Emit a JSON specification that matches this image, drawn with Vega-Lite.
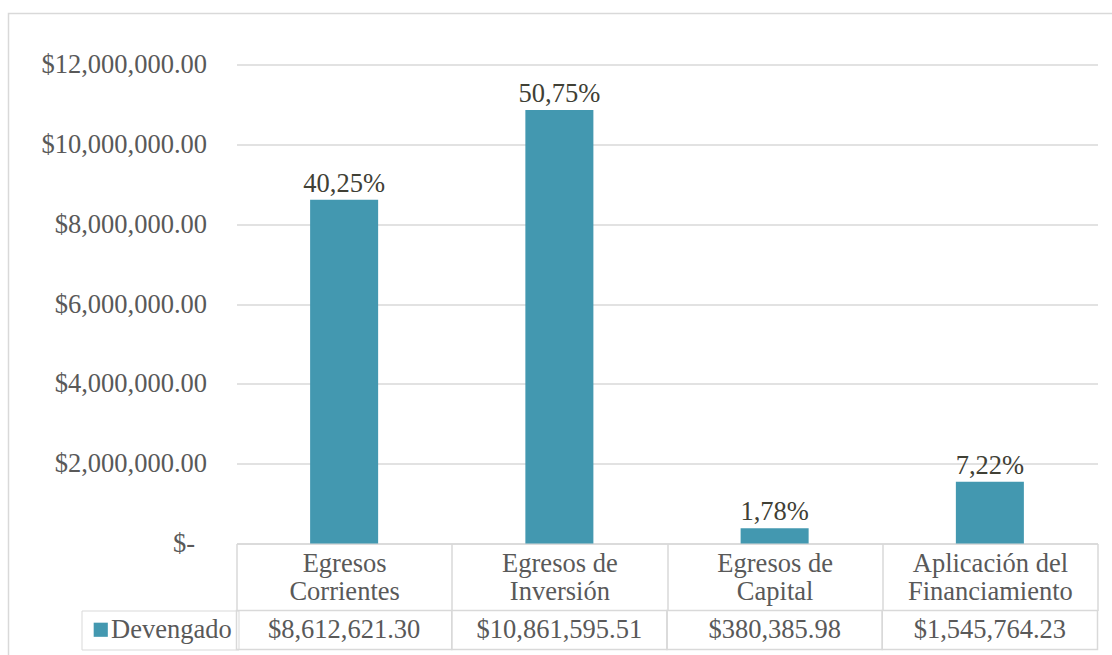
{
  "$schema": "https://vega.github.io/schema/vega-lite/v6.json",
  "padding": {"left": 8.5, "top": 13.5, "right": 0, "bottom": 0},
  "background": "white",
  "spacing": 67,
  "bounds": "flush",
  "data": {
    "values": [
      {"categoria": "Egresos Corrientes", "monto": 8612621.30, "pct": "40,25%"},
      {"categoria": "Egresos de Inversión", "monto": 10861595.51, "pct": "50,75%"},
      {"categoria": "Egresos de Capital", "monto": 380385.98, "pct": "1,78%"},
      {"categoria": "Aplicación del Financiamiento", "monto": 1545764.23, "pct": "7,22%"}
    ]
  },
  "vconcat": [
    {
      "width": 861,
      "height": 479,
      "encoding": {
        "x": {
          "field": "categoria",
          "type": "nominal",
          "sort": null,
          "scale": {"paddingInner": 0, "paddingOuter": 0},
          "axis": {
            "title": null,
            "labelAngle": 0,
            "labelExpr": "[substring(datum.label, 0, lastindexof(datum.label, ' ')), substring(datum.label, lastindexof(datum.label, ' ') + 1)]",
            "labelLineHeight": 28,
            "labelPadding": -60,
            "labelBaseline": "top",
            "tickBand": "extent",
            "tickSize": 67,
            "tickColor": "#d9d9d9",
            "tickWidth": 1.5,
            "domainColor": "#d9d9d9",
            "domainWidth": 1.5,
            "grid": false
          }
        },
        "y": {
          "field": "monto",
          "type": "quantitative",
          "scale": {"domain": [0, 12000000], "nice": false},
          "axis": {
            "title": null,
            "values": [0, 2000000, 4000000, 6000000, 8000000, 10000000, 12000000],
            "labelExpr": "datum.value === 0 ? '$-' : '$' + format(datum.value, ',.2f')",
            "labelPadding": {"condition": {"test": "datum.value === 0", "value": 42}, "value": 30},
            "ticks": false,
            "domain": false,
            "gridColor": "#d9d9d9",
            "gridWidth": 1.5
          }
        }
      },
      "layer": [
        {
          "mark": {"type": "bar", "width": {"band": 0.316}},
          "encoding": {
            "color": {
              "datum": "Devengado",
              "type": "nominal",
              "scale": {"range": ["#4398b0"]},
              "legend": {
                "title": null,
                "orient": "none",
                "legendX": -155,
                "legendY": 546,
                "symbolType": "square",
                "symbolSize": 200,
                "symbolStrokeWidth": 0,
                "labelFont": "Times New Roman",
                "labelFontSize": 26.5,
                "labelColor": "#595959",
                "labelOffset": -3,
                "strokeColor": "#d9d9d9",
                "padding": 6
              }
            }
          }
        },
        {
          "mark": {"type": "text", "baseline": "alphabetic", "dy": -8, "font": "Times New Roman", "fontSize": 26.5, "color": "#404035"},
          "encoding": {"text": {"field": "pct"}}
        }
      ]
    },
    {
      "width": 861,
      "height": 39,
      "encoding": {
        "x": {
          "field": "categoria",
          "type": "nominal",
          "sort": null,
          "scale": {"paddingInner": 0, "paddingOuter": 0},
          "axis": null
        }
      },
      "layer": [
        {
          "mark": {"type": "rect", "stroke": "#d9d9d9", "strokeWidth": 1.5},
          "encoding": {
            "fill": {
              "field": "monto",
              "type": "quantitative",
              "scale": {"range": ["rgba(255,255,255,0)", "rgba(255,255,255,0)"]},
              "legend": {
                "type": "gradient",
                "direction": "horizontal",
                "title": null,
                "labels": false,
                "labelExpr": "''",
                "labelOpacity": 0,
                "values": [0],
                "orient": "none",
                "legendX": -228,
                "legendY": -51,
                "gradientLength": 1110,
                "gradientThickness": 650,
                "gradientStrokeColor": "#d9d9d9",
                "gradientStrokeWidth": 1.5,
                "padding": 0
              }
            }
          }
        },
        {
          "mark": {"type": "text", "font": "Times New Roman", "fontSize": 26.5, "color": "#595959"},
          "encoding": {"text": {"field": "monto", "type": "quantitative", "format": "$,.2f"}}
        }
      ]
    }
  ],
  "config": {
    "font": "Times New Roman",
    "view": {"stroke": null},
    "text": {"font": "Times New Roman"},
    "axis": {"labelFont": "Times New Roman", "labelFontSize": 26.5, "labelColor": "#595959"},
    "legend": {"labelFont": "Times New Roman"}
  }
}
